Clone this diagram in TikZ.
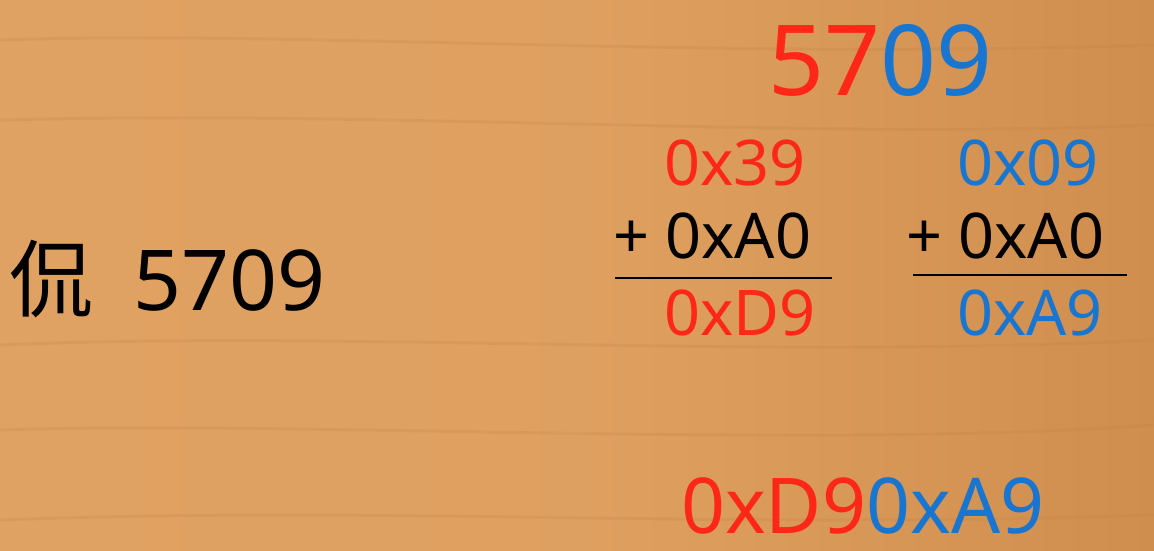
\documentclass[tikz,border=0pt]{standalone}
\usepackage{fontspec}
\setmainfont{Noto Sans}
\newfontfamily\cjk{Noto Sans CJK SC}
\definecolor{woodA}{RGB}{224,162,98}
\definecolor{woodB}{RGB}{208,142,78}
\definecolor{grain}{RGB}{190,122,62}
\definecolor{hred}{RGB}{255,40,24}
\definecolor{hblue}{RGB}{24,118,208}
\tikzset{
  txt/.style={inner sep=0pt, anchor=base west},
  big/.style={txt, font=\fontsize{98}{98}\selectfont},
  mid/.style={txt, font=\fontsize{63}{63}\selectfont},
  res/.style={txt, font=\fontsize{77}{77}\selectfont},
  rule/.style={line width=2.6pt, black},
  grainline/.style={grain, line width=3pt, opacity=0.18}
}
\begin{document}
\begin{tikzpicture}[x=1pt,y=-1pt]
\useasboundingbox (0,0) rectangle (1154,550);
\shade[left color=woodA, right color=woodB, middle color=woodA!90!woodB] (0,0) rectangle (1154,550);
\draw[grainline] (0,40) .. controls (300,30) and (700,60) .. (1154,45);
\draw[grainline] (0,120) .. controls (400,110) and (800,140) .. (1154,125);
\draw[grainline] (0,345) .. controls (350,330) and (750,360) .. (1154,340);
\draw[grainline] (0,430) .. controls (300,420) and (800,450) .. (1154,425);
\draw[grainline] (0,520) .. controls (400,505) and (700,530) .. (1154,515);
% left label
\node[txt, font=\fontsize{84}{84}\selectfont] (lbl) at (9,310) {{\cjk 侃}\hspace{40pt}5709};
% top number
\node[big] (top) at (768,95) {\textcolor{hred}{57}\textcolor{hblue}{09}};
% left sum
\node[mid, text=hred] (a1) at (664,185) {0x39};
\node[mid] (a2) at (613,258) {+ 0xA0};
\coordinate (l1s) at (615,278);
\coordinate (l1e) at (832,278);
\draw[rule] (l1s) -- (l1e);
\node[mid, text=hred] (a3) at (664,335) {0xD9};
% right sum
\node[mid, text=hblue] (b1) at (957,185) {0x09};
\node[mid] (b2) at (906,258) {+ 0xA0};
\coordinate (l2s) at (913,275);
\coordinate (l2e) at (1127,275);
\draw[rule] (l2s) -- (l2e);
\node[mid, text=hblue] (b3) at (957,335) {0xA9};
% result
\node[res] (r) at (681,533) {\textcolor{hred}{0xD9}\textcolor{hblue}{0xA9}};
\end{tikzpicture}
\end{document}
